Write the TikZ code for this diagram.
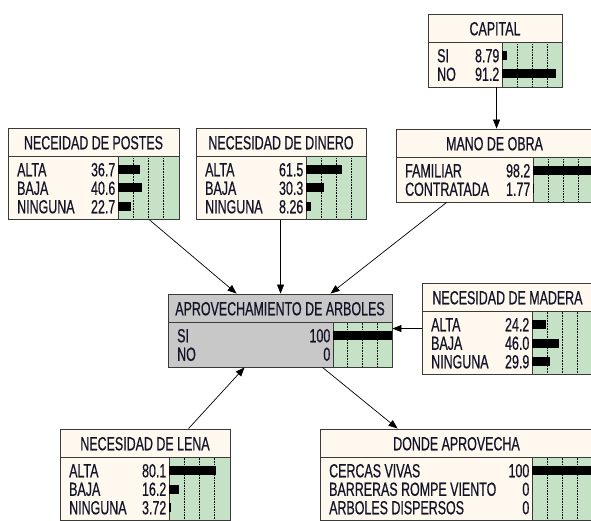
\documentclass[tikz,border=0pt]{standalone}
\usepackage{fontspec}
\setmainfont{Liberation Sans}[FakeStretch=0.655,FakeBold=0.6]
\usetikzlibrary{arrows.meta,fit}
\definecolor{cream}{HTML}{FFF8EE}
\definecolor{barbg}{HTML}{C6E2C6}
\definecolor{greybox}{HTML}{C8C8C8}
\definecolor{edgecol}{HTML}{3A3A3A}
\definecolor{txt}{HTML}{141428}
\tikzset{
  every node/.style={font=\fontsize{19}{22}\selectfont, text=txt, inner sep=0pt},
  gridline/.style={black, line width=0.6pt, densely dotted},
  edgeline/.style={edgecol, line width=0.9pt},
  framebox/.style={draw=edgecol, line width=0.9pt, inner sep=0pt},
  arr/.style={draw=black, line width=0.7pt, -{Triangle[length=9pt,width=7pt]}},
}
\newcommand\netnode[8]{%
  % #1 name, #2 x1, #3 y1, #4 x2, #5 green x, #6 rows, #7 fill, #8 title
  \pgfmathsetmacro\ya{#3+28.5}%
  \pgfmathsetmacro\yb{#3+28.5+26+18.5*(#6-1)}%
  \pgfmathsetmacro\gw{#4-#5}%
  \pgfmathsetmacro\curx{#2}%
  \pgfmathsetmacro\curg{#5}%
  \fill[#7] (#2,#3) rectangle (#4,\yb);
  \fill[barbg] (#5,\ya) rectangle (#4,\yb);
  \foreach \q in {0.25,0.5,0.75}{\draw[gridline] ({#5+\q*\gw},\ya) -- ({#5+\q*\gw},\yb);}
  \draw[edgeline] (#5,\ya) -- (#5,\yb);
  \draw[edgeline] (#2,\ya) -- (#4,\ya);
  \node[anchor=base] at ({(#2+#4)/2},{#3+14.5+6.8}) {#8};
  \node[framebox, fit={(#2,#3) (#4,\yb)}] (#1) {};
}
\newcommand\netrow[4]{%
  % #1 row index, #2 label, #3 value, #4 percent
  \pgfmathsetmacro\yr{\ya+13+18.5*#1}%
  \node[anchor=base west] at ({\curx+9},{\yr+6.8}) {#2};
  \node[anchor=base east] at ({\curg-2.5},{\yr+6.8}) {#3};
  \fill[black] (\curg,{\yr-4.5}) rectangle ({\curg+#4*0.59},{\yr+4.5});
}
\begin{document}
\begin{tikzpicture}[x=1pt,y=-1pt]
\useasboundingbox (0,0) rectangle (591,521);
\clip (0,0) rectangle (591,521);
\fill[white] (0,0) rectangle (591,521);

% CAPITAL
\netnode{cap}{428}{14}{562}{502}{2}{cream}{CAPITAL}
\netrow{0}{SI}{8.79}{8.79}
\netrow{1}{NO}{91.2}{91.2}

% NECEIDAD DE POSTES
\netnode{postes}{8}{128}{179}{118}{3}{cream}{NECEIDAD DE POSTES}
\netrow{0}{ALTA}{36.7}{36.7}
\netrow{1}{BAJA}{40.6}{40.6}
\netrow{2}{NINGUNA}{22.7}{22.7}

% NECESIDAD DE DINERO
\netnode{dinero}{196}{128}{366}{306}{3}{cream}{NECESIDAD DE DINERO}
\netrow{0}{ALTA}{61.5}{61.5}
\netrow{1}{BAJA}{30.3}{30.3}
\netrow{2}{NINGUNA}{8.26}{8.26}

% MANO DE OBRA
\netnode{mano}{396}{129}{593}{533}{2}{cream}{MANO DE OBRA}
\netrow{0}{FAMILIAR}{98.2}{98.2}
\netrow{1}{CONTRATADA}{1.77}{1.77}

% APROVECHAMIENTO DE ARBOLES
\netnode{aprov}{168}{294}{392}{333}{2}{greybox}{APROVECHAMIENTO DE ARBOLES}
\netrow{0}{SI}{100}{100}
\netrow{1}{NO}{0}{0}

% NECESIDAD DE MADERA
\netnode{madera}{422}{283}{593}{532}{3}{cream}{NECESIDAD DE MADERA}
\netrow{0}{ALTA}{24.2}{24.2}
\netrow{1}{BAJA}{46.0}{46.0}
\netrow{2}{NINGUNA}{29.9}{29.9}

% NECESIDAD DE LENA
\netnode{lena}{60}{429}{230}{169}{3}{cream}{NECESIDAD DE LENA}
\netrow{0}{ALTA}{80.1}{80.1}
\netrow{1}{BAJA}{16.2}{16.2}
\netrow{2}{NINGUNA}{3.72}{3.72}

% DONDE APROVECHA
\netnode{donde}{320}{429}{593}{532}{3}{cream}{DONDE APROVECHA}
\netrow{0}{CERCAS VIVAS}{100}{100}
\netrow{1}{BARRERAS ROMPE VIENTO}{0}{0}
\netrow{2}{ARBOLES DISPERSOS}{0}{0}

% connectors
\draw[arr] ([xshift=69pt]cap.south west) -- ([xshift=101pt]mano.north west);
\draw[arr] ([xshift=142pt]postes.south west) -- ([xshift=69pt]aprov.north west);
\draw[arr] ([xshift=85pt]dinero.south west) -- ([xshift=113pt]aprov.north west);
\draw[arr] ([xshift=51pt]mano.south west) -- ([xshift=163pt]aprov.north west);
\draw[arr] ([yshift=-46pt]madera.north west) -- ([yshift=-35pt]aprov.north east);
\draw[arr] ([xshift=129pt]lena.north west) -- ([xshift=77pt]aprov.south west);
\draw[arr] ([xshift=155pt]aprov.south west) -- ([xshift=78pt]donde.north west);
\end{tikzpicture}
\end{document}
